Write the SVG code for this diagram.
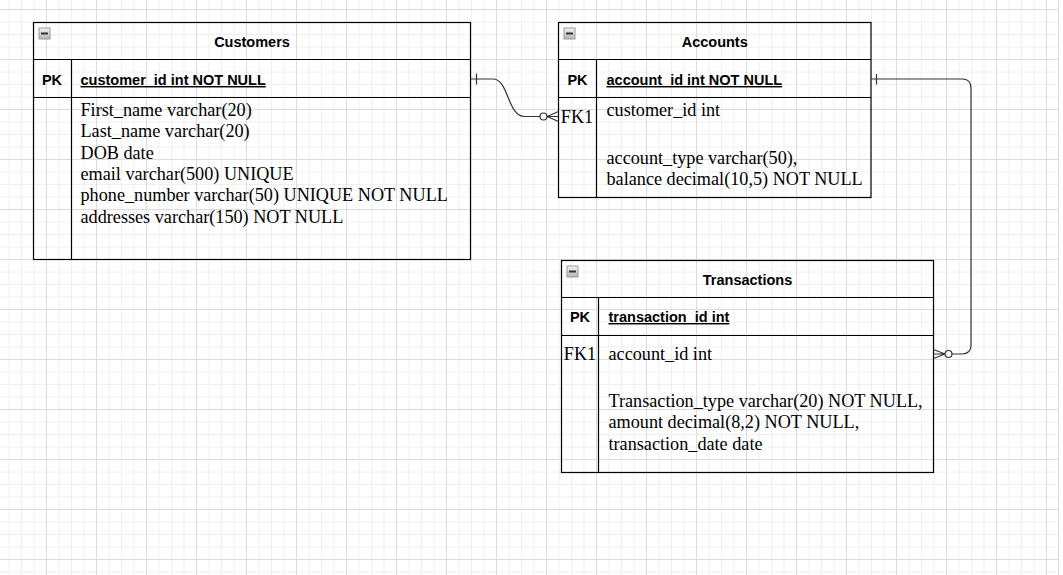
<svg xmlns="http://www.w3.org/2000/svg" width="1063" height="575" viewBox="0 0 1063 575">
<defs>
<pattern id="grid" patternUnits="userSpaceOnUse" x="46" y="9" width="50" height="50">
<path d="M13 0V50M25.5 0V50M38 0V50M0 13H50M0 25.5H50M0 38H50" stroke="#f0f0f0" stroke-width="1" fill="none"/>
<path d="M0.5 0V50M0 0.5H50" stroke="#dcdcdc" stroke-width="1" fill="none"/>
</pattern>
<linearGradient id="ig" x1="0" y1="0" x2="0" y2="1">
<stop offset="0" stop-color="#f4f4f4"/>
<stop offset="1" stop-color="#b5b5b5"/>
</linearGradient>
<g id="minus">
<rect x="0.5" y="0.5" width="11" height="11" fill="url(#ig)" stroke="#9a9a9a"/>
<rect x="2.5" y="5" width="7" height="2" fill="#333"/>
</g>
</defs>
<style>
.box{fill:none;stroke:#000;stroke-width:1.2}
.ln{fill:none;stroke:#000;stroke-width:1.2}
.ttl{font-family:"Liberation Sans",Arial,sans-serif;font-weight:bold;font-size:14.5px;fill:#000;text-anchor:middle}
.key{font-family:"Liberation Sans",Arial,sans-serif;font-weight:bold;font-size:14.5px;fill:#000}
.pk{text-decoration:underline}
.mid{text-anchor:middle}
.fld{font-family:"Liberation Serif","Times New Roman",serif;font-size:18.2px;fill:#000}
.edge{fill:none;stroke:#333;stroke-width:1.2}
</style>
<rect x="0" y="0" width="1063" height="575" fill="#fff"/>
<rect x="0" y="0" width="1058" height="575" fill="url(#grid)"/>
<path d="M1058.5 0V575" stroke="#dcdcdc" stroke-width="1"/>

<g id="customers">
<rect class="box" x="33.5" y="22.5" width="437" height="237"/>
<path class="ln" d="M33.5 59.5H470.5M33.5 97.5H470.5M71.5 59.5V259.5"/>
<use href="#minus" x="38.5" y="27.5"/>
<text class="ttl" x="252" y="46.5">Customers</text>
<text class="key mid" x="52" y="85">PK</text>
<text class="key pk" x="80.5" y="85">customer_id int NOT NULL</text>
<text class="fld" x="80.5" y="116">First_name varchar(20)</text>
<text class="fld" x="80.5" y="137.3">Last_name varchar(20)</text>
<text class="fld" x="80.5" y="158.6">DOB date</text>
<text class="fld" x="80.5" y="180">email varchar(500) UNIQUE</text>
<text class="fld" x="80.5" y="201.3">phone_number varchar(50) UNIQUE NOT NULL</text>
<text class="fld" x="80.5" y="222.6">addresses varchar(150) NOT NULL</text>
</g>

<g id="accounts">
<rect class="box" x="558.5" y="22.5" width="312.5" height="175"/>
<path class="ln" d="M558.5 59.5H871M558.5 97.5H871M596.5 59.5V197.5"/>
<use href="#minus" x="563.5" y="27.5"/>
<text class="ttl" x="714.75" y="46.5">Accounts</text>
<text class="key mid" x="577.5" y="85">PK</text>
<text class="key pk" x="606.5" y="85">account_id int NOT NULL</text>
<text class="fld mid" x="577" y="123">FK1</text>
<text class="fld" x="606.5" y="116">customer_id int</text>
<text class="fld" x="606.5" y="164">account_type varchar(50),</text>
<text class="fld" x="606.5" y="185">balance decimal(10,5) NOT NULL</text>
</g>

<g id="transactions">
<rect class="box" x="561.5" y="260.5" width="372" height="212"/>
<path class="ln" d="M561.5 297.5H933.5M561.5 335.5H933.5M598.5 297.5V472.5"/>
<use href="#minus" x="566.5" y="265.5"/>
<text class="ttl" x="747.5" y="285">Transactions</text>
<text class="key mid" x="580" y="322">PK</text>
<text class="key pk" x="608.5" y="322">transaction_id int</text>
<text class="fld mid" x="580" y="360">FK1</text>
<text class="fld" x="608.5" y="360">account_id int</text>
<text class="fld" x="608.5" y="406.5">Transaction_type varchar(20) NOT NULL,</text>
<text class="fld" x="608.5" y="428">amount decimal(8,2) NOT NULL,</text>
<text class="fld" x="608.5" y="449.5">transaction_date date</text>
</g>

<g id="connectors">
<g id="e1">
<path class="edge" d="M471 79H493C509 79 507 116.5 525 116.5H540"/>
<path class="edge" d="M476.5 73.5V84.5"/>
<circle class="edge" cx="543.5" cy="116.5" r="3.5" fill="#fff"/>
<path class="edge" d="M547 116.5L558.5 111.5M547 116.5H558.5M547 116.5L558.5 121.5"/>
</g>
<g id="e2">
<path class="edge" d="M871 79H962Q971 79 971 88V345Q971 354 962 354H952"/>
<path class="edge" d="M876.5 74V84.5"/>
<circle class="edge" cx="948.5" cy="354" r="3.5" fill="#fff"/>
<path class="edge" d="M945 354L933.5 349.5M945 354H933.5M945 354L933.5 358.5"/>
</g>
</g>
</svg>
